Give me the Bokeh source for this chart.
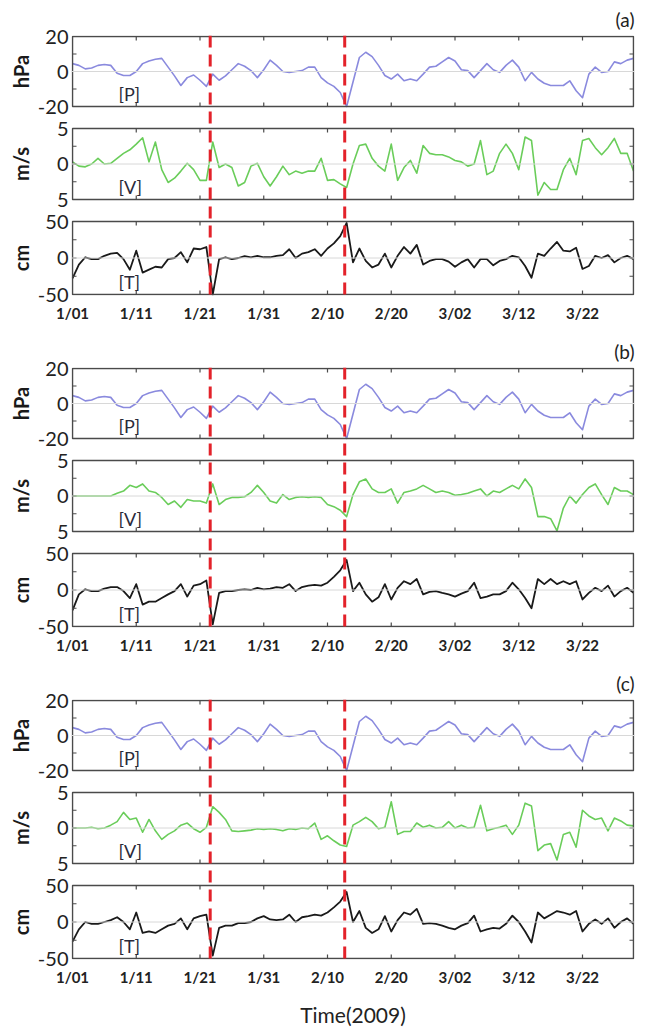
import numpy as np
from bokeh.plotting import figure
from bokeh.models import Range1d, FixedTicker, Span, Label
from bokeh.layouts import column, row
from bokeh.embed import file_html
from bokeh.resources import INLINE
from bokeh.core.properties import value

# ---------------- data ----------------
date_ticks = [0, 10, 20, 30, 40, 50, 60, 70, 80]
date_labels = ["1/01", "1/11", "1/21", "1/31", "2/10", "2/20", "3/02", "3/12", "3/22"]
event_days = [21.6, 42.7]

pressure = [4.5, 3.5, 1.5, 2, 3.5, 4, 3.5, -1, -2.3, -2.3, 0, 4.5, 6, 7, 7.5, 2.5, -2.5, -8, -3.5, -2,
            -5, -8.5, -1.5, -5, -2.5, 1, 4.5, 3, 0.5, -3.5, 1, 6.5, 3.5, 0, -0.5, 0, 0.5, 2.5, 2.5, -3.5,
            -6.5, -8.5, -12, -20, -6, 8, 11, 8.5, 3.5, -2.3, -4.3, -1.5, -5.3, -4.3, -5.3, -1.5, 2.5, 3, 5.5, 8,
            6, 1, 0.5, -3.5, 0.5, 4.5, 1, -0.5, 3.5, 6.5, 2.5, -5.3, -0.5, -4.3, -6.7, -8, -8, -8, -5.3, -11,
            -15, -1.5, 2.5, -0.5, 0, 5.5, 4.5, 6.5, 7.5]

wind_a = [0.3, -0.3, -0.4, 0, 0.8, 0, 0.1, 0.8, 1.5, 2, 2.8, 3.7, 0.3, 3.1, -0.8, -2.6, -2, -1, 0.1, -0.8,
          -2.3, -2.3, 3.1, -0.5, 0, -0.5, -3.1, -2.6, -0.3, 0.1, -1.8, -3.1, -1.8, -0.3, -1.5, -1, -1.3, -1, -1, 0.8,
          -2.3, -2.2, -2.8, -3.3, 0, 2.6, 2.8, 0.8, -0.3, -1, 2.8, -2.3, -0.5, 0.5, -1.3, 2.6, 1.5, 1.3, 1.3, 1,
          0.5, 0.3, -0.3, 0, 3.3, -1.5, -1, 1.5, 2.8, 1.5, -0.8, 3.8, 3.3, -4.4, -2.6, -3.6, -3.6, -0.8, 0.8, -1.5,
          3.3, 3.6, 2.3, 1.3, 2.3, 3.6, 1.5, 1.5, -1]

tide_a = [-28, -9, 1, -1.5, -1.5, 3, 6, 7, -1.5, -16, 10, -20, -16, -12, -13, -1.5, 0, 8, -6, 13,
          12, 15, -50, -1.5, 1, -1.5, 0, 2.5, 1, 3, 1, 1, 3, 4, 12, 0, 6, 8, 12, 3,
          13, 20, 30, 48, -6, 13, -4, -13, -9, 6, -13, 3, 15, 6, 18, -9, -4, -1.5, -1.5, -5,
          -12, -6, -1.5, -13, -1.5, -1.5, -10, -4, -1.5, 3, 1, -11, -27, 6, 3, 13, 22, 10, 9, 14,
          -15, -11, 3, 0, 4, -6, 0, 3, -1.5]

wind_b = [0, 0, 0, 0, 0, 0, 0, 0.4, 0.7, 1.5, 1.2, 1.7, 0.7, 0.5, -0.2, -1.2, -0.7, -1.6, -0.5, -0.7,
          -0.7, -1, 1.7, -1.2, -0.5, -0.2, -0.2, -0.1, 0.5, 1.5, 0.5, -0.7, -1, 0.2, -0.5, -0.2, -0.1, -0.2, -0.1, -0.2,
          -1.2, -1.5, -2, -2.9, 0.2, 2, 2.4, 1, 0.5, 0.5, 1, -1, 0.5, 0.7, 1, 1.5, 1, 0.5, 0.7, 0.5,
          0.1, 0.2, 0.4, 0.7, 1, 0, 0.7, 0.5, 1, 1.5, 1, 2.4, 1.2, -2.9, -2.9, -3.2, -4.9, -1.7, 0, -1,
          0.2, 1.2, 1.7, 0.2, -1.2, 1.2, 0.7, 0.7, 0.2]

tide_b = [-28, -6, 1, -1.5, -1.5, 2, 4, 4, -1.5, -11, 8, -20, -16, -16, -11, -6, -1.5, 8, -9, 6,
          8, 13, -47, -4, -1.5, -1.5, 0, 1, 0, 3, 1, 2, 4, 3, 8, -1.5, 4, 6, 7, 6,
          10, 18, 27, 41, -1.5, 10, -6, -16, -10, 8, -13, 3, 12, 8, 15, -6, -2.5, -1.5, -4, -6,
          -9, -5, -1.5, 10, -11, -9, -6, -6, -1.5, 10, 1, -11, -25, 15, 8, 15, 8, 12, 8, 12,
          -13, -4, 3, -1.5, 6, -9, -1.5, 3, -4]

wind_c = [0, 0, 0, 0.1, -0.1, 0, 0.4, 0.9, 2.2, 1.2, 1.4, -0.6, 1.2, -0.4, -1.6, -0.9, -0.4, 0.4, 0.7, -0.1,
          -0.6, 0.1, 3, 2.2, 1.2, -0.4, -0.5, -0.4, -0.3, -0.1, -0.2, -0.1, -0.2, -0.4, -0.1, -0.2, 0, -0.1, 0.7, -1.6,
          -1.1, -1.8, -2.4, -2.6, 0.4, 0.9, 1.5, 0.9, -0.1, 0.1, 3.7, -0.9, -0.5, -0.5, 0.7, 0.1, 0.4, 0, 0.1, 0.9,
          0, 0.4, 0, 0.1, 3.2, -0.4, -0.1, 0.1, 0.4, -0.9, 0.4, 3.5, 3.1, -3.2, -2.4, -2.2, -4.5, -0.9, -0.6, -2.7,
          2.5, 1.7, 1.2, 1.4, -0.4, 1.4, 1, 0.4, 0.3]

tide_c = [-27, -10, 0, -2.5, -2.5, 0, 2.5, 6.5, 0, -10, 13, -15, -13, -15, -10, -5, -2.5, 5, -10, 5,
          8, 10, -46, -8, -5, -5, -1.5, -1.5, 0, 5, 8, 3.5, 2.5, 3.5, 10, 0, 6.5, 8, 10, 8.7,
          13, 20, 28, 41, 0, 15, -8, -15, -10, 8, -13, 2.5, 13, 10, 18, -2.5, -1.5, -2.5, -5, -8,
          -10, -5, -1.5, 8.7, -13, -10, -8, -9, -2.5, 8.7, 0, -13, -28, 13, 5, 10, 15, 13, 10, 15,
          -13, -2.5, 3.5, -2.5, 5, -8, 0, 5, -2.5]

p_ticks = [-20, -10, 0, 10, 20]
p_labels = {20: "20", 0: "0", -20: "-20"}
v_ticks = [-5, -2.5, 0, 2.5, 5]
v_labels = {5: "5", 0: "0", -5: "5"}
t_ticks = [-50, -25, 0, 25, 50]
t_labels = {50: "50", 0: "0", -50: "-50"}
units = ["hPa", "m/s", "cm"]
tags = ["[P]", "[V]", "[T]"]

# ---------------- layout / style ----------------
FONT = "Lato"
X_END = 88
FRAME_W = 561
PAD = 1
TOTAL = 258
TOP = 33
LABEL_W = 34
LEFT = 37
BOX_COLOR = "#4a4a4a"
TICK_LEN = 4


def style(fig):
    fig.outline_line_color = None
    fig.xgrid.visible = False
    fig.ygrid.visible = False
    fig.background_fill_color = "white"
    fig.border_fill_color = "white"


def make_group(tag, P, V, T, bottom_border, xlabel=None):
    dpp = X_END / FRAME_W
    yr = Range1d(-TOTAL - PAD, PAD)
    p = figure(frame_width=FRAME_W + 2 * PAD, frame_height=TOTAL + 2 * PAD,
               output_backend="svg", toolbar_location=None,
               x_range=Range1d(-PAD * dpp, X_END + PAD * dpp), y_range=yr,
               min_border_left=LEFT, min_border_right=3, min_border_top=TOP,
               min_border_bottom=bottom_border)
    style(p)

    # narrow companion figure holding the rotated unit labels
    lf = figure(frame_width=LABEL_W, frame_height=TOTAL + 2 * PAD,
                output_backend="svg", toolbar_location=None,
                x_range=Range1d(0, LABEL_W), y_range=yr,
                x_axis_location=None, y_axis_location=None,
                min_border_left=0, min_border_right=0, min_border_top=TOP,
                min_border_bottom=bottom_border)
    style(lf)

    panels = [
        dict(key="P", data=P, lo=-20, hi=20, box=(0, 70), ticks=p_ticks, labels=p_labels,
             color="#8a8ade", width=1.6),
        dict(key="V", data=V, lo=-5, hi=5, box=(92, 163), ticks=v_ticks, labels=v_labels,
             color="#6acd5a", width=1.6),
        dict(key="T", data=T, lo=-50, hi=50, box=(185, 258), ticks=t_ticks, labels=t_labels,
             color="#1a1a1a", width=1.8),
    ]

    ytick_pos, overrides = [], {}
    seg = dict(x0=[], y0=[], x1=[], y1=[])
    centers = []

    def add_seg(a, b, c, d):
        seg["x0"].append(a); seg["y0"].append(b); seg["x1"].append(c); seg["y1"].append(d)

    for i, pn in enumerate(panels):
        yt, yb = -pn["box"][0], -pn["box"][1]
        lo, hi = pn["lo"], pn["hi"]
        centers.append((yt + yb) / 2)

        def to_main(v, lo=lo, hi=hi, yt=yt, yb=yb):
            return yb + (v - lo) / (hi - lo) * (yt - yb)

        start = lo + (-TOTAL - PAD - yb) / (yt - yb) * (hi - lo)
        end = lo + (PAD - yb) / (yt - yb) * (hi - lo)
        p.extra_y_ranges[pn["key"]] = Range1d(start, end)

        p.add_layout(Span(location=0, dimension="width", y_range_name=pn["key"],
                          line_color="#d8d8d8", line_width=1))
        days = list(range(len(pn["data"])))
        p.line(days, pn["data"], y_range_name=pn["key"], line_color=pn["color"],
               line_width=pn["width"], line_join="round")

        p.quad(left=[0], right=[X_END], top=[yt], bottom=[yb], fill_color=None,
               line_color=BOX_COLOR, line_width=1.5)

        for v in pn["ticks"]:
            pos = round(to_main(v), 3)
            ytick_pos.append(pos)
            overrides[pos] = pn["labels"].get(v, "")
            add_seg(0, pos, TICK_LEN * dpp, pos)
            add_seg(X_END, pos, X_END - TICK_LEN * dpp, pos)
        for d in date_ticks[1:]:
            add_seg(d, yt, d, yt - TICK_LEN)
            add_seg(d, yb, d, yb + TICK_LEN)

        p.add_layout(Label(x=7.2, y=yb + 2, text=tags[i], text_align="left",
                           text_baseline="bottom", text_font=FONT, text_font_size="18px",
                           text_color="#2a2a3a"))

    lf.text(x=[20] * len(units), y=centers, text=units, angle=np.pi / 2,
            text_align="center", text_baseline="middle", text_font=value(FONT),
            text_font_style="bold", text_font_size=value("20px"), text_color="#1a1a1a")

    p.segment(x0="x0", y0="y0", x1="x1", y1="y1", source=seg, line_color=BOX_COLOR,
              line_width=1.2)

    for d in event_days:
        p.add_layout(Span(location=d, dimension="height", line_color="#e3222a",
                          line_width=3, line_dash="12 7"))

    ya = p.yaxis[0]
    ya.ticker = FixedTicker(ticks=ytick_pos, minor_ticks=[])
    ya.major_label_overrides = overrides
    ya.axis_line_color = None
    ya.major_tick_line_color = None
    ya.minor_tick_line_color = None
    ya.major_tick_in = 0
    ya.major_tick_out = 0
    ya.major_label_standoff = 3
    ya.major_label_text_font = FONT
    ya.major_label_text_font_size = "20px"
    ya.major_label_text_color = "#222222"

    xa = p.xaxis[0]
    xa.ticker = FixedTicker(ticks=date_ticks, minor_ticks=[])
    xa.major_label_overrides = {d: lab for d, lab in zip(date_ticks, date_labels)}
    xa.axis_line_color = None
    xa.major_tick_line_color = None
    xa.minor_tick_line_color = None
    xa.major_tick_in = 0
    xa.major_tick_out = 0
    xa.major_label_standoff = 8
    xa.major_label_text_font = FONT
    xa.major_label_text_font_style = "bold"
    xa.major_label_text_font_size = "15px"
    xa.major_label_text_color = "#222222"
    if xlabel:
        xa.axis_label = xlabel
        xa.axis_label_text_font = FONT
        xa.axis_label_text_font_style = "normal"
        xa.axis_label_text_font_size = "21px"
        xa.axis_label_text_color = "#222222"
        xa.axis_label_standoff = 13

    p.title.text = tag
    p.title.align = "right"
    p.title.text_font = FONT
    p.title.text_font_size = "19px"
    p.title.text_font_style = "normal"
    p.title.text_color = "#222222"
    p.title.standoff = 10
    return row(lf, p, spacing=0)


ga = make_group("(a)", pressure, wind_a, tide_a, 37)
gb = make_group("(b)", pressure, wind_b, tide_b, 37)
gc = make_group("(c)", pressure, wind_c, tide_c, 65, xlabel="Time(2009)")

layout = column(ga, gb, gc, spacing=0)
open("out.html", "w").write(file_html(layout, INLINE))
